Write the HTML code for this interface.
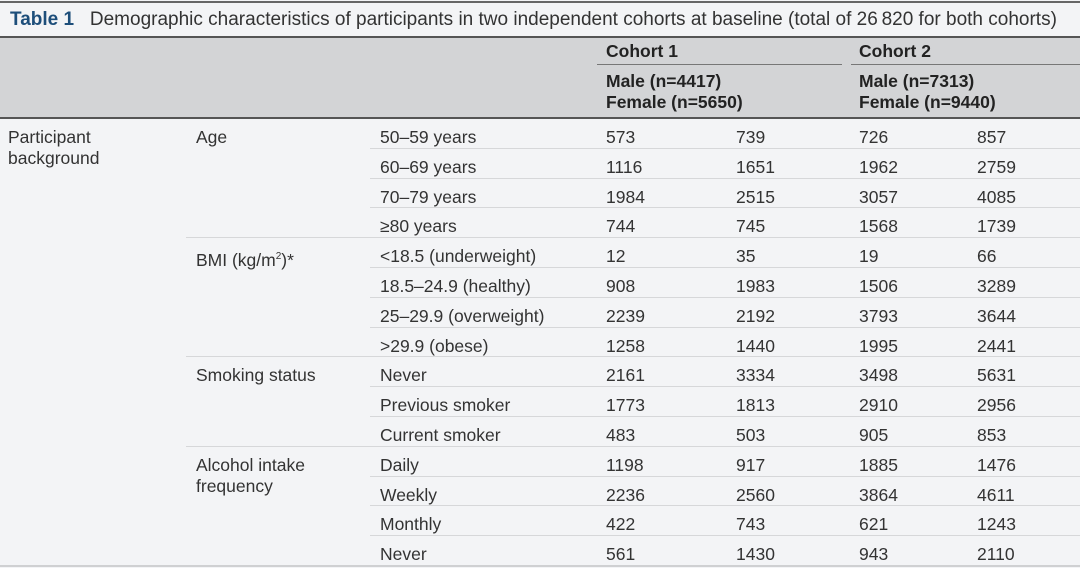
<!DOCTYPE html>
<html><head><meta charset="utf-8">
<style>
html,body{margin:0;padding:0;}
body{width:1080px;height:568px;background:#f3f4f6;position:relative;overflow:hidden;font-family:"Liberation Sans",sans-serif;color:#333;}
.a{position:absolute;white-space:nowrap;}
.t{font-size:17.5px;line-height:21px;}
.b{font-weight:bold;color:#222;}
.hl{position:absolute;height:0;}
</style></head>
<body>
<div class="hl" style="left:0;top:1px;width:1080px;border-top:2px solid #666;"></div>
<div class="a" style="left:10px;top:8px;font-size:19px;line-height:23px;"><span style="font-weight:bold;color:#1d4e7a;">Table 1</span>&nbsp;&nbsp;&nbsp;Demographic characteristics of participants in two independent cohorts at baseline (total of 26&#8201;820 for both cohorts)</div>
<div class="a" style="left:0;top:36px;width:1080px;height:79px;background:#d3d4d6;border-top:2px solid #555;border-bottom:2px solid #555;"></div>
<div class="a t b" style="left:606px;top:41px;">Cohort 1</div>
<div class="a t b" style="left:859px;top:41px;">Cohort 2</div>
<div class="hl" style="left:597px;top:64px;width:245px;border-top:1px solid #777;"></div>
<div class="hl" style="left:851px;top:64px;width:229px;border-top:1px solid #777;"></div>
<div class="a t b" style="left:606px;top:71px;">Male (n=4417)<br>Female (n=5650)</div>
<div class="a t b" style="left:859px;top:71px;">Male (n=7313)<br>Female (n=9440)</div>
<div class="a t" style="left:8px;top:127px;">Participant<br>background</div>
<div id="body"></div>
<div class="hl" style="left:0;top:565px;width:1080px;border-top:2px solid #cfd0d2;"></div>
<script>
const groups = ["Age","BMI (kg/m<sup style='font-size:10px'>2</sup>)*","Smoking status","Alcohol intake<br>frequency"];
const groupStarts = [0,4,8,11];
const categories = ["50–59 years","60–69 years","70–79 years","≥80 years","<18.5 (underweight)","18.5–24.9 (healthy)","25–29.9 (overweight)",">29.9 (obese)","Never","Previous smoker","Current smoker","Daily","Weekly","Monthly","Never"];
const c1Male = [573,1116,1984,744,12,908,2239,1258,2161,1773,483,1198,2236,422,561];
const c1Female = [739,1651,2515,745,35,1983,2192,1440,3334,1813,503,917,2560,743,1430];
const c2Male = [726,1962,3057,1568,19,1506,3793,1995,3498,2910,905,1885,3864,621,943];
const c2Female = [857,2759,4085,1739,66,3289,3644,2441,5631,2956,853,1476,4611,1243,2110];
const body = document.getElementById('body');
const top0 = 118, rh = 29.8;
function txt(x, y, html, name){
  const d = document.createElement('div');
  d.className = 'a t';
  d.style.left = x + 'px'; d.style.top = y + 'px';
  d.innerHTML = html;
  
  
  body.appendChild(d);
}
const esc = s => s.replace(/</g,'&lt;').replace(/>/g,'&gt;');
categories.forEach((c, i) => {
  const y = top0 + i*rh;
  if (i > 0) {
    const ln = document.createElement('div');
    ln.className = 'hl';
    const isGroup = groupStarts.includes(i);
    const x0 = isGroup ? 186 : 370;
    ln.style.left = x0 + 'px'; ln.style.top = y + 'px'; ln.style.width = (1080 - x0) + 'px';
    ln.style.borderTop = '1px solid #d6d7d9';
    
    
    body.appendChild(ln);
  }
  const ty = y + 9;
  txt(380, ty, esc(c), 'category-label');
  txt(606, ty, c1Male[i], 'cohort-1-male-value');
  txt(736, ty, c1Female[i], 'cohort-1-female-value');
  txt(859, ty, c2Male[i], 'cohort-2-male-value');
  txt(977, ty, c2Female[i], 'cohort-2-female-value');
});
groups.forEach((g, k) => {
  txt(196, top0 + groupStarts[k]*rh + 9, g, 'group-label');
});
</script>
</body></html>
